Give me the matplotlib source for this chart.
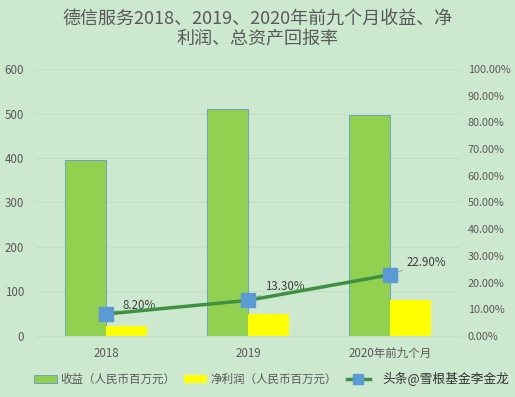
import matplotlib.pyplot as plt
from matplotlib.lines import Line2D
from matplotlib.patches import Patch
from matplotlib.ticker import FuncFormatter

plt.rcParams['font.family'] = ['Noto Sans CJK SC', 'DejaVu Sans']

# data
categories = ['2018', '2019', '2020年前九个月']
revenue = [395, 510, 497]          # 收益（人民币百万元）
net_profit = [22, 49, 80]          # 净利润（人民币百万元）
roa = [8.20, 13.30, 22.90]         # 总资产回报率 %

bg = '#CCE8CF'
text_col = '#595959'

fig = plt.figure(figsize=(5.15, 3.97), dpi=100, facecolor=bg)
ax = fig.add_axes([0.068, 0.154, 0.827, 0.672])
ax.set_facecolor(bg)

x = list(range(len(categories)))
w = 0.29
ax.bar([i - w / 2 for i in x], revenue, width=w, color='#92D050',
       edgecolor='#5B9BD5', linewidth=0.6, zorder=2)
ax.bar([i + w / 2 for i in x], net_profit, width=w, color='#FFFF00',
       edgecolor='none', zorder=2)

ax.set_xlim(-0.5, 2.5)
ax.set_ylim(0, 600)
ax.set_yticks(range(0, 601, 100))
ax.set_xticks(x)
ax.set_xticklabels(categories)
ax.yaxis.grid(True, color='#C2DEC5', linewidth=0.8, zorder=0)
ax.tick_params(length=0, labelsize=8.3, colors=text_col, pad=8)
ax.tick_params(axis='x', pad=8)
for s in ax.spines.values():
    s.set_visible(False)
ax.spines['bottom'].set_visible(True)
ax.spines['bottom'].set_color('#C2DEC5')

ax2 = ax.twinx()
ax2.set_ylim(0, 100)
ax2.set_yticks(range(0, 101, 10))
ax2.yaxis.set_major_formatter(FuncFormatter(lambda v, p: f'{v:.2f}%'))
ax2.tick_params(length=0, labelsize=7.8, colors=text_col, pad=5)
for s in ax2.spines.values():
    s.set_visible(False)

ax2.plot(x, roa, color='#3F9142', linewidth=2.5, marker='s', markersize=10,
         markerfacecolor='#5B9BD5', markeredgecolor='#5B9BD5', zorder=5)

offsets = [(12, 6), (12, 10), (12, 9)]
for i, v in enumerate(roa):
    ax2.annotate(f'{v:.2f}%', (x[i], v), xytext=offsets[i], textcoords='offset points',
                 fontsize=8.3, color='#404040', va='center', ha='left',
                 arrowprops=dict(arrowstyle='-', color='#A6A6A6', lw=0.8,
                                 shrinkA=1, shrinkB=5))

fig.text(0.5, 0.975, '德信服务2018、2019、2020年前九个月收益、净\n利润、总资产回报率',
         ha='center', va='top', fontsize=13, color=text_col, linespacing=1.2)

handles = [Patch(facecolor='#92D050', edgecolor='#5B9BD5', linewidth=0.6),
           Patch(facecolor='#FFFF00', edgecolor='none'),
           Line2D([0], [0], color='#3F9142', lw=2.5, marker='s', markersize=7,
                  markerfacecolor='#5B9BD5', markeredgecolor='#5B9BD5')]
labels = ['收益（人民币百万元）', '净利润（人民币百万元）', '']
fig.legend(handles, labels, loc='center left', bbox_to_anchor=(0.045, 0.045),
           ncol=3, frameon=False, fontsize=8.3, labelcolor=text_col,
           handlelength=2.0, handletextpad=0.3, columnspacing=0.8)

fig.text(0.742, 0.045, '头条@雪根基金李金龙', fontsize=9.2, color='#333333',
         ha='left', va='center')

fig.savefig('out.png', dpi=100, facecolor=bg)
